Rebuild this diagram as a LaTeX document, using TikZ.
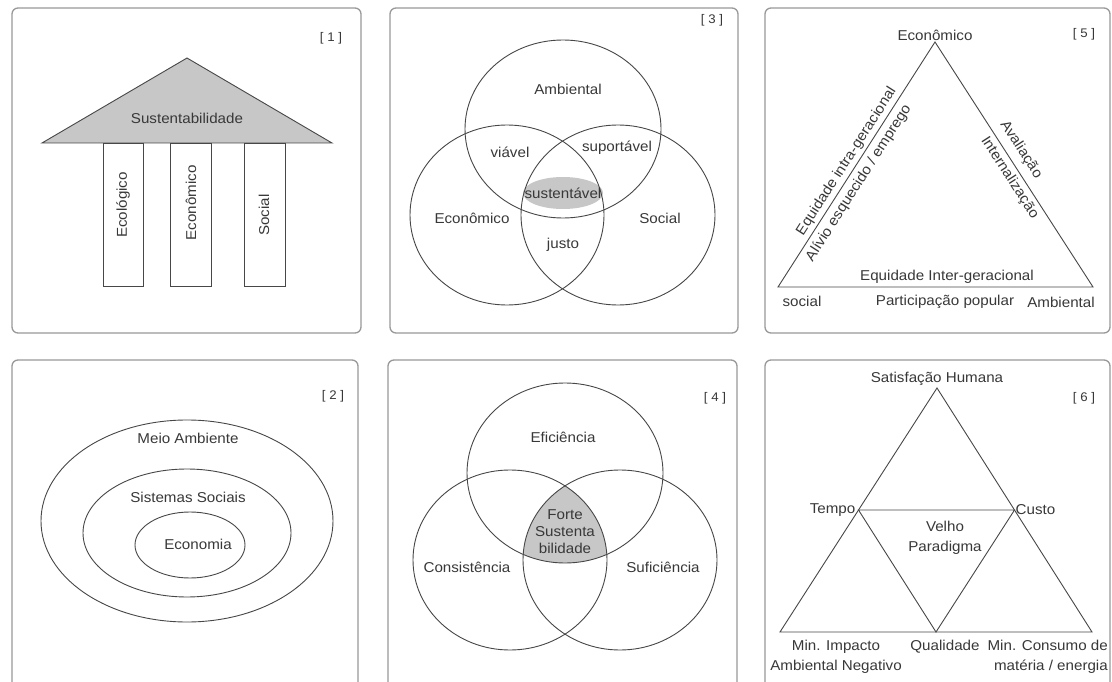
\documentclass[tikz,border=0pt]{standalone}
\usepackage{fontspec}
\setmainfont{Liberation Sans}[FakeStretch=1.06]
\usepackage{xcolor}
\usetikzlibrary{positioning, calc}

\begin{document}
\begin{tikzpicture}[
            x=1pt, y=-1pt,
            every node/.style={font=\fontsize{14.3}{18}\selectfont, text=black!78, inner sep=1pt},
            panel/.style={
                draw=black!40,
                line width=1.3pt,
                rounded corners=6pt
            },
            outline/.style={
                draw=black!72,
                line width=0.9pt
            },
            tag/.style={font=\fontsize{12.5}{14}\selectfont},
            pillar/.style={rotate=90}
        ]
            \clip (0,0) rectangle (1112,682);
            \fill[white] (0,0) rectangle (1112,682);

            % --- MARCOS ---
            \draw [panel] (12,8) rectangle (361,333);
            \draw [panel] (390,8) rectangle (738,333);
            \draw [panel] (765,8) rectangle (1110,333);
            \draw [panel] (12,360) rectangle (358,720);
            \draw [panel] (388,360) rectangle (737,720);
            \draw [panel] (765,360) rectangle (1110,720);

            % --- [1] TEMPLO ---
            \draw [outline, fill=black!22] (187,58) -- (332,143) -- (42,143) -- cycle;
            \node (sust1) at (187,118) {Sustentabilidade};
            \draw [outline] (103,143) rectangle (143,286);
            \draw [outline] (170,143) rectangle (211,286);
            \draw [outline] (244,143) rectangle (285,286);
            \node [pillar] (ecol1) at (123,205) {Ecológico};
            \node [pillar] (econ1) at (191,203) {Econômico};
            \node [pillar] (soc1) at (264,215) {Social};
            \node [tag] (tag1) at (331,38) {[ 1 ]};

            % --- [3] VENN ---
            \fill [black!22] (563,193) ellipse [x radius=40pt, y radius=16pt];
            \draw [outline] (563,129) ellipse [x radius=98pt, y radius=89pt];
            \draw [outline] (507,215) ellipse [x radius=97pt, y radius=90pt];
            \draw [outline] (618,215) ellipse [x radius=97pt, y radius=90pt];
            \node (amb3) at (568,89) {Ambiental};
            \node (viav3) at (510,152) {viável};
            \node (sup3) at (617,148) {suportável};
            \node (sust3) at (563,193) {sustentável};
            \node (econ3) at (472,218) {Econômico};
            \node (soc3) at (660,218) {Social};
            \node (just3) at (563,245) {justo};
            \node [tag] (tag3) at (712,20) {[ 3 ]};

            % --- [5] TRIANGULO ---
            \coordinate (eco5) at (935,42);
            \coordinate (soc5) at (778,287);
            \coordinate (amb5) at (1093,287);
            \draw [outline] (eco5) -- (amb5) -- (soc5) -- cycle;
            \path (soc5) -- (eco5)
                node [pos=0.49, sloped, above=2pt] (intra5) {Equidade intra-geracional}
                node [pos=0.45, sloped, below=4pt] (alivio5) {Alívio esquecido / emprego};
            \path (eco5) -- (amb5)
                node [pos=0.47, sloped, above=6pt] (aval5) {Avaliação}
                node [pos=0.53, sloped, below=3pt] (intern5) {Internalização};
            \node [above=0pt of eco5] (teco5) {Econômico};
            \node (inter5) at (947,277) {Equidade Inter-geracional};
            \node (tsoc5) at (802,301) {social};
            \node (part5) at (945,302) {Participação popular};
            \node (tamb5) at (1061,302) {Ambiental};
            \node [tag] (tag5) at (1084,34) {[ 5 ]};

            % --- [2] ELIPSES ---
            \draw [outline] (187,521) ellipse [x radius=146pt, y radius=101pt];
            \draw [outline] (187,533) ellipse [x radius=104pt, y radius=64pt];
            \draw [outline] (190,545) ellipse [x radius=55pt, y radius=33pt];
            \node (meio2) at (188,438) {Meio Ambiente};
            \node (sist2) at (188,497) {Sistemas Sociais};
            \node (econ2) at (198,544) {Economia};
            \node [tag] (tag2) at (333,396) {[ 2 ]};

            % --- [4] VENN ---
            \begin{scope}
                \clip (565,473) ellipse [x radius=98pt, y radius=90pt];
                \clip (510,560) ellipse [x radius=97pt, y radius=90pt];
                \fill [black!22] (620,560) ellipse [x radius=97pt, y radius=90pt];
            \end{scope}
            \draw [outline] (565,473) ellipse [x radius=98pt, y radius=90pt];
            \draw [outline] (510,560) ellipse [x radius=97pt, y radius=90pt];
            \draw [outline] (620,560) ellipse [x radius=97pt, y radius=90pt];
            \node (efic4) at (563,437) {Eficiência};
            \node [align=center, font=\fontsize{14.3}{17}\selectfont] (forte4) at (565,532) {Forte\\Sustenta\\bilidade};
            \node (cons4) at (467,567) {Consistência};
            \node (sufi4) at (663,567) {Suficiência};
            \node [tag] (tag4) at (715,398) {[ 4 ]};

            % --- [6] PARADIGMA ---
            \coordinate (sat6) at (937,388);
            \coordinate (min6) at (780,632);
            \coordinate (cons6) at (1092,632);
            \coordinate (tempo6) at ($(sat6)!0.5!(min6)$);
            \coordinate (custo6) at ($(sat6)!0.5!(cons6)$);
            \coordinate (qual6) at ($(min6)!0.5!(cons6)$);
            \draw [outline] (sat6) -- (cons6) -- (min6) -- cycle;
            \draw [outline] (tempo6) -- (custo6) -- (qual6) -- cycle;
            \node [above=1pt of sat6] (tsat6) {Satisfação Humana};
            \node [left=2pt of tempo6] (ttempo6) {Tempo};
            \node [right=0pt of custo6] (tcusto6) {Custo};
            \node [align=center, font=\fontsize{14.3}{20}\selectfont] (velho6) at (945,538) {Velho\\Paradigma};
            \node (tqual6) at (945,647) {Qualidade};
            \node [align=center, font=\fontsize{14.3}{20}\selectfont] (timp6) at (836,657) {Min. Impacto\\Ambiental Negativo};
            \node [align=right, anchor=east, font=\fontsize{14.3}{20}\selectfont] (tcons6) at (1109,657) {Min. Consumo de\\matéria / energia};
            \node [tag] (tag6) at (1084,398) {[ 6 ]};
        \end{tikzpicture}
\end{document}
